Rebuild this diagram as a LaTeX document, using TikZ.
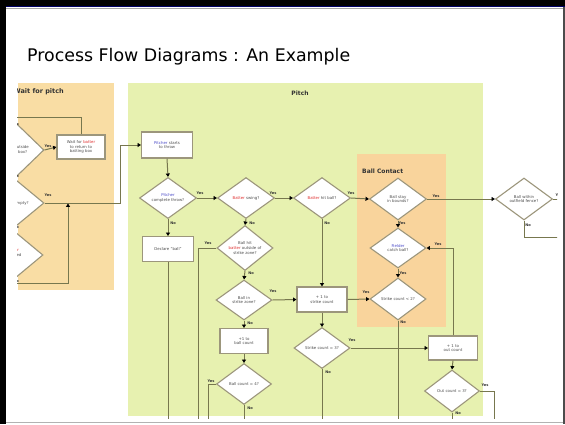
\documentclass[tikz,border=0pt]{standalone}
\usepackage{fontspec}
\setmainfont{DejaVu Sans}
\usetikzlibrary{shapes.geometric,arrows.meta}
\definecolor{pgreen}{HTML}{E7F1B0}
\definecolor{porange}{HTML}{F9DDA4}
\definecolor{corange}{HTML}{F9D49C}
\definecolor{shapeb}{HTML}{9C967C}
\definecolor{linec}{HTML}{77774E}
\definecolor{tred}{HTML}{E03030}
\definecolor{tblue}{HTML}{4A4AC8}
\newcommand{\rd}[1]{\textcolor{tred}{#1}}
\newcommand{\bl}[1]{\textcolor{tblue}{#1}}
\begin{document}
\begin{tikzpicture}[x=1pt,y=-1pt,
 dec/.style={diamond, draw=shapeb, fill=white, line width=1.1pt, inner sep=0pt, align=center,
   font=\fontsize{3.9}{4.7}\selectfont, text=black!70},
 box/.style={rectangle, draw=shapeb, fill=white, line width=1.1pt, inner sep=0pt, align=center,
   font=\fontsize{3.9}{4.7}\selectfont, text=black!70, minimum width=50pt, minimum height=25pt},
 flow/.style={draw=linec, line width=1pt},
 arr/.style={flow, -{Triangle[length=3.4pt,width=4pt,color=black]}},
 lab/.style={font=\fontsize{3.6}{3.6}\selectfont\bfseries, text=black!80, inner sep=0pt},
 ptitle/.style={font=\fontsize{6}{6}\selectfont\bfseries, text=black!80, inner sep=0pt}
]
\useasboundingbox (0,0) rectangle (565,424);
\fill[white] (0,0) rectangle (565,424);
% frame
\fill[black] (0,0) rectangle (565,6.2);
\fill[black] (0,0) rectangle (6,424);
\fill[blue!40!black] (6,6.2) rectangle (565,7.4);
\fill[gray!70] (6,7.6) rectangle (565,9);
\fill[black!70] (562.5,7) rectangle (565,424);
\fill[gray!60] (6,421.7) rectangle (562.5,423.2);
% title
\node[anchor=base west, inner sep=0pt] (title) at (27,61) {\resizebox{323pt}{!}{Process Flow Diagrams : An Example}};

\begin{scope}
\clip (17,82) rectangle (557,418);
% panels
\fill[porange] (18,83) rectangle (114,290);
\fill[pgreen] (128,83) rectangle (483,416);
\fill[corange] (357,154) rectangle (446,327);
\node[ptitle, font=\fontsize{6.5}{6.5}\selectfont\bfseries, anchor=east] (tw) at (64,92) {Wait for pitch};
\node[ptitle] (tp) at (300,93) {Pitch};
\node[ptitle, anchor=west] (tb) at (362,171) {Ball Contact};

% left panel
\node[dec, minimum width=58pt, minimum height=56pt] (L1) at (15,150) {Batter outside\\batting box?};
\node[box, minimum width=48pt, minimum height=24pt] (W1) at (81,147) {Wait for \rd{batter}\\to return to\\batting box};
\node[dec, minimum width=58pt, minimum height=48pt] (L2) at (15,203) {Bases empty?};
\node[dec, minimum width=60pt, minimum height=50pt] (L3) at (13,255) {\rd{Batter}\\changed\\?};
\node[box, minimum width=51pt, minimum height=26pt] (P1) at (167,145) {\bl{Pitcher} starts\\to throw};
\coordinate (wt) at (10,117);
\coordinate (lb) at (10,283);
\draw[flow] (W1.north) |- (wt);
\draw[arr] (L1.east) -- (W1.west);
\draw[arr] (L2.east) -- (120,203) |- (P1.west);
\draw[arr] (lb) -- (68,283) -- (68,203.5);
\node[lab] at (48,146) {Yes};
\node[lab] at (48,195) {Yes};
\node[lab] at (16,124) {No};
\node[lab] at (16,176) {No};
\node[lab] at (16,227) {No};
\node[lab] at (16,281) {No};

% pitch panel
\node[dec, minimum width=57pt, minimum height=41pt] (D1) at (168,198) {\bl{Pitcher}\\complete throw?};
\node[dec, minimum width=57pt, minimum height=41pt] (D2) at (246,198) {\rd{Batter} swing?};
\node[dec, minimum width=57pt, minimum height=41pt] (D3) at (322,198) {\rd{Batter} hit ball?};
\node[dec, minimum width=57pt, minimum height=42pt] (DB) at (398,199) {Ball stay\\in bounds?};
\node[dec, minimum width=57pt, minimum height=42pt] (DF) at (524,199) {Ball within\\outfield fence?};
\node[box, minimum width=51pt, minimum height=25pt] (R1) at (168,249) {Declare ``ball''};
\node[dec, minimum width=56pt, minimum height=44pt] (D4) at (245,248) {Ball hit\\\rd{batter} outside of\\strike zone?};
\node[dec, minimum width=56pt, minimum height=40pt] (D5) at (244,300) {Ball in\\strike zone?};
\node[box, minimum width=48pt, minimum height=25pt] (R2) at (244,341) {+1 to\\ball count};
\node[dec, minimum width=55pt, minimum height=41pt] (D6) at (244,384) {Ball count = 4?};
\node[box, minimum width=50pt, minimum height=25pt] (R3) at (322,299.5) {+ 1 to\\strike count};
\node[dec, minimum width=56pt, minimum height=41pt] (D7) at (322,348) {Strike count = 3?};
\node[dec, minimum width=56pt, minimum height=40pt] (DC) at (398,248) {\bl{Fielder}\\catch ball?};
\node[dec, minimum width=56pt, minimum height=42pt] (D8) at (398,299) {Strike count < 2?};
\node[box, minimum width=49pt, minimum height=24pt] (R4) at (453,348) {+ 1 to\\out count};
\node[dec, minimum width=55pt, minimum height=42pt] (D9) at (452,391) {Out count = 3?};

\coordinate (b1) at (168,420);
\coordinate (b2) at (198,420);
\coordinate (b3) at (208,420);
\coordinate (b4) at (244,420);
\coordinate (b5) at (322,420);
\coordinate (b6) at (398,420);
\coordinate (b7) at (494,420);
\coordinate (b8) at (452,420);
\coordinate (fy) at (560,199);
\coordinate (fn) at (560,237);

\draw[arr] (P1.south) -- (D1.north);
\draw[arr] (D1.east) -- (D2.west);
\draw[arr] (D1.south) -- (R1.north);
\draw[flow] (R1.south) -- (b1);
\draw[arr] (D2.east) -- (D3.west);
\draw[arr] (D2.south) -- (D4.north);
\draw[flow] (D4.west) -| (b2);
\draw[arr] (D4.south) -- (D5.north);
\draw[arr] (D5.south) -- (R2.north);
\draw[arr] (D5.east) -- (R3.west);
\draw[arr] (R2.south) -- (D6.north);
\draw[flow] (D6.west) -| (b3);
\draw[flow] (D6.south) -- (b4);
\draw[arr] (D3.east) -- (DB.west);
\draw[arr] (D3.south) -- (R3.north);
\draw[arr] (R3.south) -- (D7.north);
\draw[arr] (R3.east) -- (D8.west);
\draw[arr] (D7.east) -- (R4.west);
\draw[flow] (D7.south) -- (b5);
\draw[arr] (DB.east) -- (DF.west);
\draw[arr] (DB.south) -- (DC.north);
\draw[arr] (DC.south) -- (D8.north);
\draw[arr] (R4.north) |- (DC.east);
\draw[flow] (D8.south) -- (b6);
\draw[arr] (R4.south) -- (D9.north);
\draw[flow] (D9.east) -| (b7);
\draw[flow] (D9.south) -- (b8);
\draw[flow] (DF.east) -- (fy);
\draw[flow] (DF.south) |- (fn);

\node[lab] at (200,193) {Yes};
\node[lab] at (173,223) {No};
\node[lab] at (273,193) {Yes};
\node[lab] at (252,223) {No};
\node[lab] at (351,193) {Yes};
\node[lab] at (327,223) {No};
\node[lab] at (436,196) {Yes};
\node[lab] at (402,223) {Yes};
\node[lab] at (438,244) {Yes};
\node[lab] at (403,273) {Yes};
\node[lab] at (208,243) {Yes};
\node[lab] at (251,273) {No};
\node[lab] at (273,291) {Yes};
\node[lab] at (250,323) {No};
\node[lab] at (366,292) {Yes};
\node[lab] at (211,381) {Yes};
\node[lab] at (250,408) {No};
\node[lab] at (352,340) {Yes};
\node[lab] at (328,372) {No};
\node[lab] at (403,322) {No};
\node[lab] at (485,385) {Yes};
\node[lab] at (458,413) {No};
\node[lab] at (528,225) {No};
\node[lab] at (559,195) {Yes};
\end{scope}
\end{tikzpicture}
\end{document}
